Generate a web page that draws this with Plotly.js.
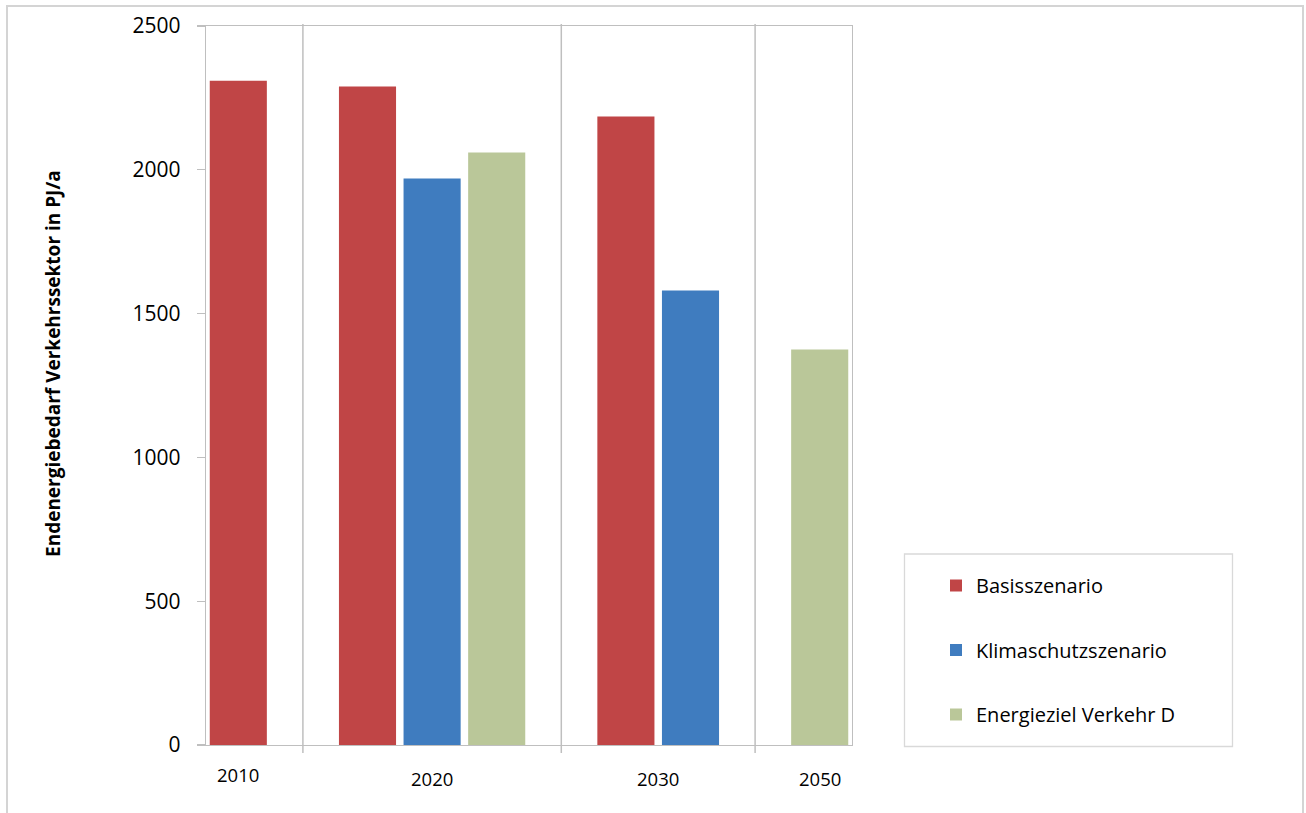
<!DOCTYPE html>
<html>
<head>
<meta charset="utf-8">
<script src="https://cdn.plot.ly/plotly-3.0.1.min.js"></script>
<style>html,body{margin:0;padding:0;background:#fff;}#chart{width:1306px;height:813px;}</style>
</head>
<body>
<div id="chart"></div>
<script>
// ---- data ----
const years = ['2010', '2020', '2030', '2050'];
const seriesNames = ['Basisszenario', 'Klimaschutzszenario', 'Energieziel Verkehr D'];
const basisValues = [2310, 2290, 2185, null];
const klimaValues = [null, 1970, 1580, null];
const zielValues  = [null, 2060, null, 1375];
const yTickValues = [0, 500, 1000, 1500, 2000, 2500];
const yTitle = 'Endenergiebedarf Verkehrssektor in PJ/a';

// ---- build slot categories (one slot per bar, a spacer slot between years) ----
const allValues = [basisValues, klimaValues, zielValues];
const colors = ['#C04546', '#3F7CBF', '#BAC799'];
const slots = [];
const spacers = [];
const yearSlotIdx = years.map(() => []);
const traceX = [[], [], []];
const traceY = [[], [], []];
years.forEach((yr, yi) => {
  allValues.forEach((vals, si) => {
    if (vals[yi] !== null) {
      const key = yr + ' ' + seriesNames[si];
      yearSlotIdx[yi].push(slots.length);
      slots.push(key);
      traceX[si].push(key);
      traceY[si].push(vals[yi]);
    }
  });
  if (yi < years.length - 1) {
    const sp = 'sep' + yi;
    spacers.push(sp);
    slots.push(sp);
  }
});

const traces = seriesNames.map((name, si) => ({
  type: 'bar',
  name: name,
  x: traceX[si],
  y: traceY[si],
  marker: {color: colors[si], line: {width: 0}},
  legendgroup: 'g' + si,
  hoverinfo: 'y+name'
}));

// plot area in px
const L = 206, R = 852, T = 26, B = 745, W = 1306, H = 813;
const pw = R - L, ph = B - T;
const px2x = p => (p - L) / pw;
const px2y = p => (B - p) / ph;

const shapes = [];
// separators between years
spacers.forEach(sp => {
  shapes.push({type: 'line', xref: 'x', yref: 'paper', x0: sp, x1: sp,
    y0: px2y(753), y1: px2y(24), line: {color: '#BFBFBF', width: 1.5}});
});
// legend box
shapes.push({type: 'rect', xref: 'paper', yref: 'paper',
  x0: px2x(904.5), x1: px2x(1232.5), y0: px2y(746.5), y1: px2y(554),
  line: {color: '#D9D9D9', width: 1.3}, fillcolor: 'rgba(0,0,0,0)'});
// outer chart frame
shapes.push({type: 'rect', xref: 'paper', yref: 'paper',
  x0: px2x(7), x1: px2x(1303), y0: px2y(830), y1: px2y(6),
  line: {color: '#D4D4D4', width: 2}, fillcolor: 'rgba(0,0,0,0)'});

const annotations = years.map((yr, yi) => {
  const idx = yearSlotIdx[yi];
  const mid = idx.reduce((a, b) => a + b, 0) / idx.length;
  return {text: yr, xref: 'x', yref: 'paper', x: mid, y: 0,
    xanchor: 'center', yanchor: 'middle', yshift: yi === 0 ? -29 : -33,
    showarrow: false, font: {family: 'Open Sans', size: 18.5, color: '#000'}};
});
annotations.push({text: '<b>' + yTitle + '</b>', xref: 'paper', yref: 'paper',
  x: px2x(53), y: px2y(364), xanchor: 'center', yanchor: 'middle', textangle: -90,
  showarrow: false, font: {family: 'Open Sans', size: 19, color: '#000'}});

const layout = {
  width: W, height: H,
  margin: {l: L, r: W - R, t: T, b: H - B, pad: 0},
  paper_bgcolor: '#fff', plot_bgcolor: '#fff',
  barmode: 'overlay', bargap: 0.116,
  showlegend: true,
  legend: {x: px2x(936), y: px2y(566), xanchor: 'left', yanchor: 'top',
    bgcolor: 'rgba(0,0,0,0)', borderwidth: 0, tracegroupgap: 35.5,
    font: {family: 'Open Sans', size: 20, color: '#000'}},
  xaxis: {type: 'category', categoryorder: 'array', categoryarray: slots,
    range: [-0.5, slots.length - 0.5], showticklabels: false, ticks: '',
    showgrid: false, zeroline: false, showline: true, mirror: true,
    linecolor: '#BFBFBF', linewidth: 1.3, fixedrange: true},
  yaxis: {range: [0, 2500], tickmode: 'array', tickvals: yTickValues,
    ticks: 'outside', ticklen: 8, tickcolor: '#BFBFBF', tickwidth: 1.3,
    ticklabelstandoff: 12,
    showgrid: false, zeroline: false, showline: true, mirror: true,
    linecolor: '#BFBFBF', linewidth: 1.3,
    tickfont: {family: 'Open Sans', size: 21, color: '#000'}, fixedrange: true},
  shapes: shapes,
  annotations: annotations,
  font: {family: 'Open Sans', color: '#000'}
};

Plotly.newPlot('chart', traces, layout, {displayModeBar: false, staticPlot: true});
</script>
</body>
</html>
